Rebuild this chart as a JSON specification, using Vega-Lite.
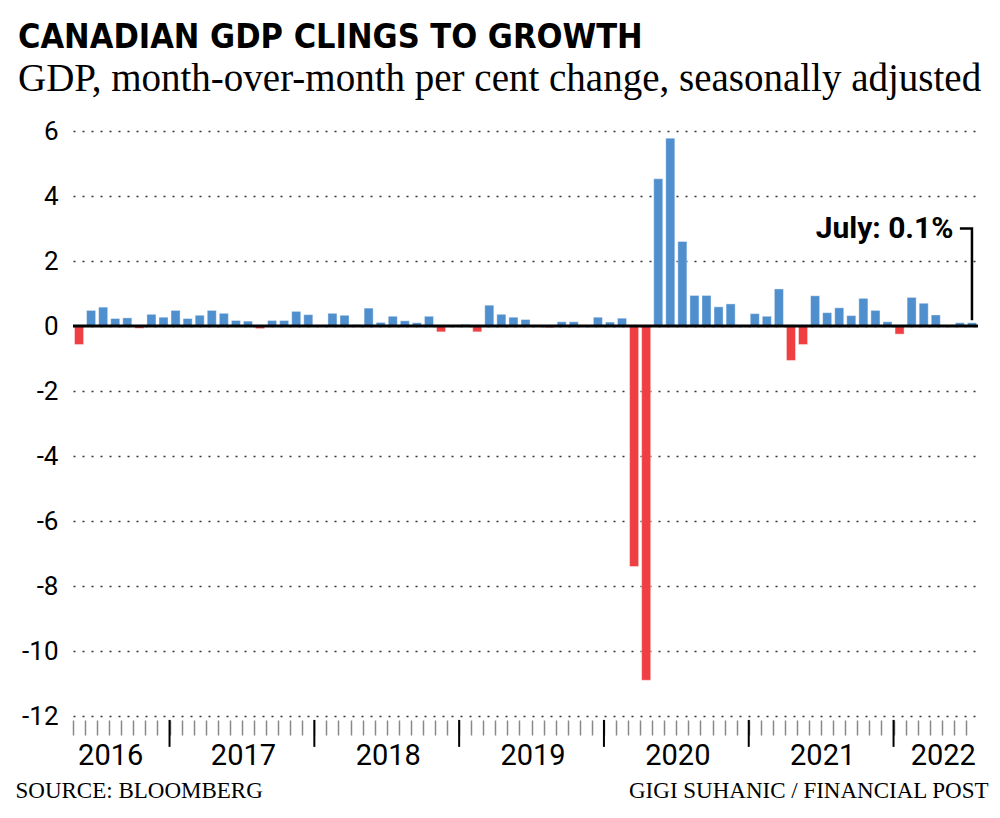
{
  "$schema": "https://vega.github.io/schema/vega-lite/v6.json",
  "width": 905,
  "height": 585,
  "autosize": {"type": "none"},
  "padding": {"left": 73, "top": 131, "right": 22, "bottom": 102},
  "background": "white",
  "config": {"view": {"stroke": null}, "font": "Roboto"},
  "title": {
    "text": "CANADIAN GDP CLINGS TO GROWTH",
    "subtitle": "GDP, month-over-month per cent change, seasonally adjusted",
    "anchor": "start",
    "frame": "group",
    "dx": -55,
    "offset": 19,
    "font": "Liberation Sans Narrow, DejaVu Sans Condensed, Roboto",
    "fontSize": 34,
    "fontWeight": "bold",
    "color": "#000",
    "subtitleFont": "Liberation Serif, DejaVu Serif",
    "subtitleFontSize": 39,
    "subtitleColor": "#000",
    "subtitlePadding": 5
  },
  "datasets": {
    "gdp": [
      {"month": "2016-05", "value": -0.57}, {"month": "2016-06", "value": 0.48}, {"month": "2016-07", "value": 0.58}, {"month": "2016-08", "value": 0.23},
      {"month": "2016-09", "value": 0.25}, {"month": "2016-10", "value": -0.07}, {"month": "2016-11", "value": 0.36}, {"month": "2016-12", "value": 0.27},
      {"month": "2017-01", "value": 0.48}, {"month": "2017-02", "value": 0.23}, {"month": "2017-03", "value": 0.33}, {"month": "2017-04", "value": 0.48},
      {"month": "2017-05", "value": 0.39}, {"month": "2017-06", "value": 0.17}, {"month": "2017-07", "value": 0.15}, {"month": "2017-08", "value": -0.08},
      {"month": "2017-09", "value": 0.17}, {"month": "2017-10", "value": 0.17}, {"month": "2017-11", "value": 0.45}, {"month": "2017-12", "value": 0.35},
      {"month": "2018-01", "value": 0.0}, {"month": "2018-02", "value": 0.39}, {"month": "2018-03", "value": 0.33}, {"month": "2018-04", "value": 0.04},
      {"month": "2018-05", "value": 0.55}, {"month": "2018-06", "value": 0.11}, {"month": "2018-07", "value": 0.30}, {"month": "2018-08", "value": 0.16},
      {"month": "2018-09", "value": 0.10}, {"month": "2018-10", "value": 0.30}, {"month": "2018-11", "value": -0.18}, {"month": "2018-12", "value": 0.0},
      {"month": "2019-01", "value": 0.05}, {"month": "2019-02", "value": -0.18}, {"month": "2019-03", "value": 0.64}, {"month": "2019-04", "value": 0.36},
      {"month": "2019-05", "value": 0.27}, {"month": "2019-06", "value": 0.20}, {"month": "2019-07", "value": 0.0}, {"month": "2019-08", "value": -0.05},
      {"month": "2019-09", "value": 0.13}, {"month": "2019-10", "value": 0.13}, {"month": "2019-11", "value": 0.0}, {"month": "2019-12", "value": 0.27},
      {"month": "2020-01", "value": 0.12}, {"month": "2020-02", "value": 0.24}, {"month": "2020-03", "value": -7.4}, {"month": "2020-04", "value": -10.9},
      {"month": "2020-05", "value": 4.53}, {"month": "2020-06", "value": 5.78}, {"month": "2020-07", "value": 2.6}, {"month": "2020-08", "value": 0.94},
      {"month": "2020-09", "value": 0.94}, {"month": "2020-10", "value": 0.59}, {"month": "2020-11", "value": 0.68}, {"month": "2020-12", "value": 0.0},
      {"month": "2021-01", "value": 0.38}, {"month": "2021-02", "value": 0.30}, {"month": "2021-03", "value": 1.14}, {"month": "2021-04", "value": -1.06},
      {"month": "2021-05", "value": -0.57}, {"month": "2021-06", "value": 0.93}, {"month": "2021-07", "value": 0.41}, {"month": "2021-08", "value": 0.56},
      {"month": "2021-09", "value": 0.32}, {"month": "2021-10", "value": 0.85}, {"month": "2021-11", "value": 0.48}, {"month": "2021-12", "value": 0.13},
      {"month": "2022-01", "value": -0.25}, {"month": "2022-02", "value": 0.88}, {"month": "2022-03", "value": 0.70}, {"month": "2022-04", "value": 0.34},
      {"month": "2022-05", "value": 0.0}, {"month": "2022-06", "value": 0.1}, {"month": "2022-07", "value": 0.1}
    ],
    "years": [
      {"month": "2016-08", "year": "2016"}, {"month": "2017-07", "year": "2017"}, {"month": "2018-07", "year": "2018"},
      {"month": "2019-07", "year": "2019"}, {"month": "2020-07", "year": "2020"}, {"month": "2021-07", "year": "2021"},
      {"month": "2022-05", "year": "2022"}
    ],
    "bounds": [
      {"month": "2017-01"}, {"month": "2018-01"}, {"month": "2019-01"}, {"month": "2020-01"}, {"month": "2021-01"}, {"month": "2022-01"}
    ],
    "note": [{"month": "2022-07", "label": "July: 0.1%"}],
    "connector": [
      {"month": "2022-06", "value": 3.0, "order": 1},
      {"month": "2022-07", "value": 3.0, "order": 2},
      {"month": "2022-07", "value": 0.18, "order": 3}
    ]
  },
  "layer": [
    {
      "data": {"name": "gdp"},
      "mark": {"type": "bar", "stroke": "white", "strokeOpacity": 0.4, "strokeWidth": 1},
      "encoding": {
        "x": {
          "field": "month", "type": "ordinal",
          "scale": {"paddingInner": 0.25, "paddingOuter": 0.125},
          "axis": {
            "title": "SOURCE: BLOOMBERG",
            "titleFont": "Liberation Serif, DejaVu Serif",
            "titleFontSize": 23,
            "titleFontWeight": "normal",
            "titleColor": "#000",
            "titleX": -58,
            "titleY": 77,
            "titleAlign": "left",
            "titleAnchor": "start",
            "titleBaseline": "alphabetic",
            "labels": false,
            "domain": false,
            "ticks": true,
            "tickSize": 15,
            "tickColor": "#888",
            "tickWidth": 1.5,
            "bandPosition": 0,
            "tickOffset": -1.5,
            "offset": 4,
            "grid": false
          }
        },
        "y": {
          "field": "value", "type": "quantitative",
          "scale": {"domain": [-12, 6], "nice": false, "zero": false},
          "axis": {
            "title": "GIGI SUHANIC  / FINANCIAL POST",
            "titleAngle": 0,
            "titleX": 915,
            "titleY": 666,
            "titleAlign": "right",
            "titleAnchor": "end",
            "titleBaseline": "alphabetic",
            "titleFont": "Liberation Serif, DejaVu Serif",
            "titleFontSize": 23,
            "titleFontWeight": "normal",
            "titleColor": "#000",
            "values": [-12, -10, -8, -6, -4, -2, 0, 2, 4, 6],
            "labelExpr": "'' + datum.value",
            "labelFont": "Roboto",
            "labelFontSize": 26,
            "labelColor": "#000",
            "labelPadding": 15,
            "ticks": false,
            "domain": false,
            "grid": true,
            "gridDash": [2, 7],
            "gridColor": "#333",
            "gridWidth": 1.5
          }
        },
        "color": {
          "condition": {"test": "datum.value < 0", "value": "#ef3f43"},
          "value": "#4f8fce"
        }
      }
    },
    {
      "data": {"values": [{}]},
      "mark": {"type": "rule", "color": "#000", "strokeWidth": 3},
      "encoding": {"y": {"datum": 0}}
    },
    {
      "data": {"name": "bounds"},
      "mark": {"type": "rule", "color": "#000", "strokeWidth": 2, "xOffset": -1.5},
      "encoding": {
        "x": {"field": "month", "type": "ordinal", "bandPosition": 0},
        "y": {"datum": -12.12},
        "y2": {"datum": -12.95}
      }
    },
    {
      "data": {"name": "years"},
      "mark": {"type": "text", "font": "Roboto", "fontSize": 29, "color": "#000", "align": "center", "baseline": "alphabetic"},
      "encoding": {
        "x": {"field": "month", "type": "ordinal", "bandPosition": 0},
        "y": {"datum": -13.5},
        "text": {"field": "year"}
      }
    },
    {
      "data": {"name": "note"},
      "mark": {"type": "text", "font": "Roboto", "fontSize": 30, "fontWeight": "bold", "color": "#000", "align": "right", "baseline": "middle", "dx": -14},
      "encoding": {
        "x": {"field": "month", "type": "ordinal", "bandPosition": 0},
        "y": {"datum": 3.0},
        "text": {"field": "label"}
      }
    },
    {
      "data": {"name": "connector"},
      "mark": {"type": "line", "color": "#000", "strokeWidth": 2.5, "strokeJoin": "miter"},
      "encoding": {
        "x": {"field": "month", "type": "ordinal"},
        "y": {"field": "value", "type": "quantitative"},
        "order": {"field": "order"}
      }
    }
  ]
}
